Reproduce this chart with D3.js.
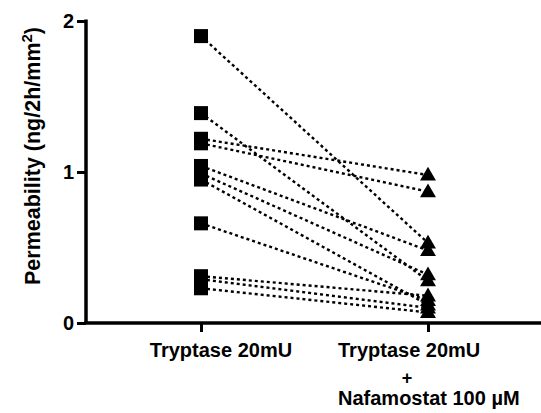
<!DOCTYPE html>
<html>
<head>
<meta charset="utf-8">
<script src="https://cdn.jsdelivr.net/npm/d3@7"></script>
<style>
  body { margin: 0; background: #fff; }
  svg text { font-family: "Liberation Sans", Arial, sans-serif; fill: #000; font-weight: bold; }
</style>
</head>
<body>
<svg width="541" height="413"></svg>
<script>
// groups on the x axis
const groups = ["tryptase", "nafamostat"];
// paired measurements, same order in both arrays
const tryptaseVals = [1.90, 1.39, 1.22, 1.19, 1.04, 0.99, 0.95, 0.66, 0.31, 0.29, 0.23];
const nafamostatVals = [0.53, 0.28, 0.98, 0.87, 0.48, 0.32, 0.12, 0.15, 0.18, 0.10, 0.07];
const yTicks = [0, 1, 2];

const svg = d3.select("svg");

const x = d3.scalePoint().domain(groups).range([201, 428]);
const y = d3.scaleLinear().domain([0, 2]).range([323, 21]);

const pairs = tryptaseVals.map((v, i) => ({ a: v, b: nafamostatVals[i] }));

// dotted connecting lines
svg.append("g").selectAll("line")
  .data(pairs)
  .enter().append("line")
    .attr("x1", x("tryptase"))
    .attr("y1", d => y(d.a))
    .attr("x2", x("nafamostat"))
    .attr("y2", d => y(d.b))
    .attr("stroke", "#000")
    .attr("stroke-width", 2.4)
    .attr("stroke-dasharray", "3,3");

// y axis
const yAxis = svg.append("g")
  .attr("transform", "translate(86,0)")
  .call(d3.axisLeft(y).tickValues(yTicks).tickFormat(d3.format("d")).tickSize(9).tickPadding(3));
yAxis.select(".domain").attr("stroke-width", 3.5).attr("d", "M0," + (y(2) - 1.5) + "V" + y(0));
yAxis.selectAll(".tick line").attr("stroke-width", 3);
yAxis.selectAll(".tick text").style("font-size", "20px").style("font-family", "Liberation Sans, Arial, sans-serif");

// x axis
const xAxis = svg.append("g")
  .attr("transform", "translate(0," + y(0) + ")")
  .call(d3.axisBottom(x).tickSize(9).tickFormat(""));
xAxis.select(".domain").attr("stroke-width", 3.5).attr("d", "M84,0H541");
xAxis.selectAll(".tick line").attr("stroke-width", 3);

// squares
svg.append("g").selectAll("rect")
  .data(tryptaseVals)
  .enter().append("rect")
    .attr("x", x("tryptase") - 7)
    .attr("y", d => y(d) - 7)
    .attr("width", 14)
    .attr("height", 14)
    .attr("fill", "#000");

// triangles
const tri = d3.symbol().type(d3.symbolTriangle).size(110);
svg.append("g").selectAll("path")
  .data(nafamostatVals)
  .enter().append("path")
    .attr("d", tri)
    .attr("transform", d => "translate(" + x("nafamostat") + "," + (y(d) + 1) + ")")
    .attr("fill", "#000");

// category labels
svg.append("text").attr("x", 221).attr("y", 357).attr("text-anchor", "middle")
  .style("font-size", "20px").text("Tryptase 20mU");
svg.append("text").attr("x", 338).attr("y", 357)
  .style("font-size", "20px").text("Tryptase 20mU");
svg.append("text").attr("x", 407).attr("y", 384).attr("text-anchor", "middle")
  .style("font-size", "18px").text("+");
svg.append("text").attr("x", 338).attr("y", 405)
  .style("font-size", "20px").text("Nafamostat 100 \u00B5M");

// y label
const yl = svg.append("text")
  .attr("transform", "translate(40,156) rotate(-90)")
  .attr("text-anchor", "middle")
  .style("font-size", "21.5px");
yl.append("tspan").text("Permeability (ng/2h/mm");
yl.append("tspan").attr("dy", -8).style("font-size", "15px").text("2");
yl.append("tspan").attr("dy", 8).text(")");
</script>
</body>
</html>
